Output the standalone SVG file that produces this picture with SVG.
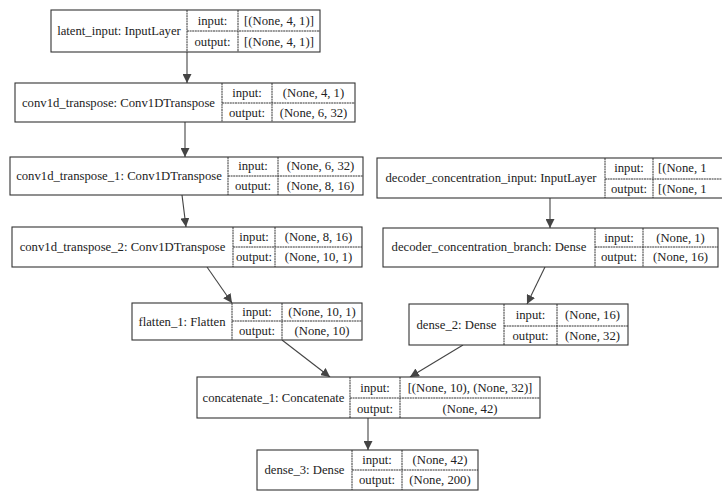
<svg xmlns="http://www.w3.org/2000/svg" width="722" height="492" viewBox="0 0 722 492" font-family="'Liberation Serif', 'Times New Roman', serif">
<style>
.box{fill:#fff;stroke:#333;stroke-width:1.1}
.ln{stroke:#333;stroke-width:1;stroke-dasharray:2 0.6}
text{font-family:"Liberation Serif","Times New Roman",serif;font-size:12.7px;fill:#222}
.c{text-anchor:middle}
.edge{stroke:#444;stroke-width:1.1;fill:none;marker-end:url(#ah)}
</style>
<defs>
<marker id="ah" markerUnits="userSpaceOnUse" markerWidth="10" markerHeight="9" refX="9" refY="4.5" orient="auto">
<path d="M0,0 L9,4.5 L0,9 z" fill="#444"/>
</marker>
</defs>
<rect width="722" height="492" fill="#fff"/>
<g id="connectors">
<line class="edge" x1="187" y1="52" x2="187" y2="83"/>
<line class="edge" x1="185" y1="122" x2="185" y2="157"/>
<line class="edge" x1="182" y1="195" x2="186" y2="227"/>
<line class="edge" x1="550" y1="198" x2="550" y2="228"/>
<line class="edge" x1="207" y1="267" x2="232" y2="303"/>
<line class="edge" x1="545" y1="267" x2="527" y2="304"/>
<line class="edge" x1="282" y1="340" x2="330" y2="377"/>
<line class="edge" x1="463" y1="345" x2="410" y2="377"/>
<line class="edge" x1="368" y1="418" x2="368" y2="450"/>
</g>
<g id="latent_input">
<rect class="box" x="51" y="10" width="269" height="42"/>
<line class="ln" x1="187" y1="10" x2="187" y2="52"/><line class="ln" x1="238" y1="10" x2="238" y2="52"/><line class="ln" x1="187" y1="31" x2="320" y2="31"/>
<text class="c" x="119" y="35">latent_input: InputLayer</text>
<text class="c" x="212.5" y="25">input:</text><text class="c" x="212.5" y="46">output:</text>
<text class="c" x="279" y="25">[(None, 4, 1)]</text><text class="c" x="279" y="46">[(None, 4, 1)]</text>
</g>
<g id="conv1d_transpose">
<rect class="box" x="15" y="83" width="340" height="39"/>
<line class="ln" x1="222" y1="83" x2="222" y2="122"/><line class="ln" x1="272" y1="83" x2="272" y2="122"/><line class="ln" x1="222" y1="103" x2="355" y2="103"/>
<text class="c" x="118.5" y="107">conv1d_transpose: Conv1DTranspose</text>
<text class="c" x="247" y="97">input:</text><text class="c" x="247" y="117">output:</text>
<text class="c" x="313.5" y="97">(None, 4, 1)</text><text class="c" x="313.5" y="117">(None, 6, 32)</text>
</g>
<g id="conv1d_transpose_1">
<rect class="box" x="10" y="157" width="353" height="38"/>
<line class="ln" x1="228" y1="157" x2="228" y2="195"/><line class="ln" x1="278" y1="157" x2="278" y2="195"/><line class="ln" x1="228" y1="176" x2="363" y2="176"/>
<text class="c" x="119" y="180">conv1d_transpose_1: Conv1DTranspose</text>
<text class="c" x="253" y="170">input:</text><text class="c" x="253" y="190">output:</text>
<text class="c" x="320.5" y="170">(None, 6, 32)</text><text class="c" x="320.5" y="190">(None, 8, 16)</text>
</g>
<g id="decoder_concentration_input">
<rect class="box" x="377" y="158" width="363" height="40"/>
<line class="ln" x1="605" y1="158" x2="605" y2="198"/><line class="ln" x1="653" y1="158" x2="653" y2="198"/><line class="ln" x1="605" y1="179" x2="740" y2="179"/>
<text class="c" x="491" y="182">decoder_concentration_input: InputLayer</text>
<text class="c" x="629" y="172">input:</text><text class="c" x="629" y="193">output:</text>
<text x="658" y="172">[(None, 1</text><text x="658" y="193">[(None, 1</text>
</g>
<g id="conv1d_transpose_2">
<rect class="box" x="12" y="227" width="350" height="40"/>
<line class="ln" x1="233" y1="227" x2="233" y2="267"/><line class="ln" x1="275" y1="227" x2="275" y2="267"/><line class="ln" x1="233" y1="247" x2="362" y2="247"/>
<text class="c" x="122.5" y="251">conv1d_transpose_2: Conv1DTranspose</text>
<text class="c" x="254" y="241">input:</text><text class="c" x="254" y="261">output:</text>
<text class="c" x="318.5" y="241">(None, 8, 16)</text><text class="c" x="318.5" y="261">(None, 10, 1)</text>
</g>
<g id="decoder_concentration_branch">
<rect class="box" x="383" y="228" width="335" height="39"/>
<line class="ln" x1="595" y1="228" x2="595" y2="267"/><line class="ln" x1="643" y1="228" x2="643" y2="267"/><line class="ln" x1="595" y1="247" x2="718" y2="247"/>
<text class="c" x="489" y="251">decoder_concentration_branch: Dense</text>
<text class="c" x="619" y="242">input:</text><text class="c" x="619" y="261">output:</text>
<text class="c" x="680.5" y="242">(None, 1)</text><text class="c" x="680.5" y="261">(None, 16)</text>
</g>
<g id="flatten_1">
<rect class="box" x="132" y="303" width="230" height="37"/>
<line class="ln" x1="232" y1="303" x2="232" y2="340"/><line class="ln" x1="282" y1="303" x2="282" y2="340"/><line class="ln" x1="232" y1="321" x2="362" y2="321"/>
<text class="c" x="182" y="326">flatten_1: Flatten</text>
<text class="c" x="257" y="316">input:</text><text class="c" x="257" y="335">output:</text>
<text class="c" x="322" y="316">(None, 10, 1)</text><text class="c" x="322" y="335">(None, 10)</text>
</g>
<g id="dense_2">
<rect class="box" x="409" y="304" width="219" height="41"/>
<line class="ln" x1="504" y1="304" x2="504" y2="345"/><line class="ln" x1="557" y1="304" x2="557" y2="345"/><line class="ln" x1="504" y1="326" x2="628" y2="326"/>
<text class="c" x="456.5" y="329">dense_2: Dense</text>
<text class="c" x="530.5" y="319">input:</text><text class="c" x="530.5" y="340">output:</text>
<text class="c" x="592.5" y="319">(None, 16)</text><text class="c" x="592.5" y="340">(None, 32)</text>
</g>
<g id="concatenate_1">
<rect class="box" x="197" y="377" width="343" height="41"/>
<line class="ln" x1="350" y1="377" x2="350" y2="418"/><line class="ln" x1="400" y1="377" x2="400" y2="418"/><line class="ln" x1="350" y1="398" x2="540" y2="398"/>
<text class="c" x="273.5" y="402">concatenate_1: Concatenate</text>
<text class="c" x="375" y="392">input:</text><text class="c" x="375" y="413">output:</text>
<text class="c" x="470" y="392">[(None, 10), (None, 32)]</text><text class="c" x="470" y="413">(None, 42)</text>
</g>
<g id="dense_3">
<rect class="box" x="257" y="450" width="221" height="40"/>
<line class="ln" x1="352" y1="450" x2="352" y2="490"/><line class="ln" x1="402" y1="450" x2="402" y2="490"/><line class="ln" x1="352" y1="470" x2="478" y2="470"/>
<text class="c" x="304.5" y="474">dense_3: Dense</text>
<text class="c" x="377" y="464">input:</text><text class="c" x="377" y="484">output:</text>
<text class="c" x="440" y="464">(None, 42)</text><text class="c" x="440" y="484">(None, 200)</text>
</g>
</svg>
